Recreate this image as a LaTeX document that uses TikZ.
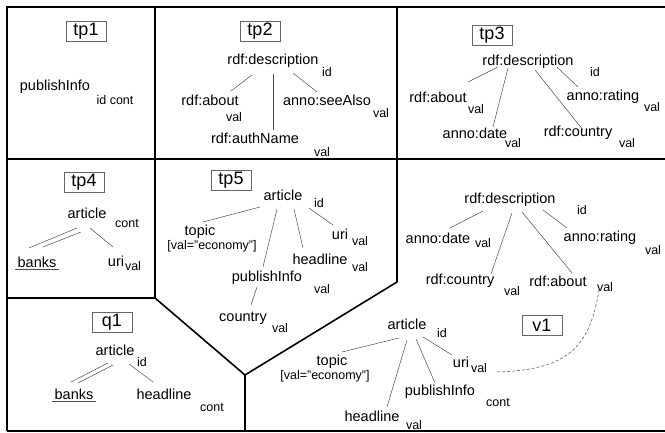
\documentclass[tikz,border=0pt]{standalone}
\usepackage{fontspec}
\setmainfont{Liberation Sans}
\tikzset{
	wall/.style={line width=1.6pt},
	link/.style={draw=black!70, line width=0.5pt},
	tpbox/.style={draw=black!60, line width=0.6pt, minimum width=40pt, minimum height=20pt, inner sep=1pt, font=\fontsize{18}{20}\selectfont},
	lbl/.style={inner sep=1pt, font=\fontsize{14.5}{16}\selectfont},
	subl/.style={inner sep=1pt, font=\fontsize{12.5}{14}\selectfont}
}

\begin{document}
\begin{tikzpicture}[x=1pt,y=-1pt]

	\useasboundingbox (0,0) rectangle (665,433);

	% partition
	\draw[wall] (7,431) -- (7,7) -- (665,7);
	\draw[wall] (7,431) -- (665,431);
	\draw[wall] (7,159) -- (665,159);
	\draw[wall] (155,7) -- (155,298);
	\draw[wall] (7,298) -- (155,298) -- (245,375) -- (245,431);
	\draw[wall] (397,7) -- (397,282) -- (245,375);

	% tp1
	\node[tpbox] (tp1) at (86,31) {tp1};
	\node[lbl] (t1pub) at (55,87) {publishInfo};
	\node[subl] (t1pubs) at (115,100) {id cont};

	% tp2
	\node[tpbox] (tp2) at (260,31) {tp2};
	\node[lbl] (t2desc) at (273,61) {rdf:description};
	\node[subl] (t2descs) at (327,72) {id};
	\node[lbl] (t2about) at (210,100) {rdf:about};
	\node[subl] (t2abouts) at (234,117) {val};
	\node[lbl] (t2see) at (327,100) {anno:seeAlso};
	\node[subl] (t2sees) at (381,113) {val};
	\node[lbl] (t2auth) at (255,138) {rdf:authName};
	\node[subl] (t2auths) at (322,152) {val};
	\draw[link] ([shift={(-21,14)}]t2desc.center) -- ([shift={(21,-9)}]t2about.center);
	\draw[link] ([shift={(0,13)}]t2desc.center) -- ([shift={(18,-8)}]t2auth.center);
	\draw[link] ([shift={(20,12)}]t2desc.center) -- ([shift={(-10,-8)}]t2see.center);

	% tp3
	\node[tpbox] (tp3) at (492,35) {tp3};
	\node[lbl] (t3desc) at (528,62) {rdf:description};
	\node[subl] (t3descs) at (595,72) {id};
	\node[lbl] (t3about) at (438,97) {rdf:about};
	\node[subl] (t3abouts) at (476,109) {val};
	\node[lbl] (t3date) at (475,133) {anno:date};
	\node[subl] (t3dates) at (513,143) {val};
	\node[lbl] (t3ctry) at (578,133) {rdf:country};
	\node[subl] (t3ctrys) at (627,143) {val};
	\node[lbl] (t3rate) at (603,97) {anno:rating};
	\node[subl] (t3rates) at (652,107) {val};
	\draw[link] ([shift={(-30,5)}]t3desc.center) -- ([shift={(30,-15)}]t3about.center);
	\draw[link] ([shift={(-20,6)}]t3desc.center) -- ([shift={(18,-6)}]t3date.center);
	\draw[link] ([shift={(7,8)}]t3desc.center) -- ([shift={(5,-3)}]t3ctry.center);
	\draw[link] ([shift={(29,5)}]t3desc.center) -- ([shift={(-25,-10)}]t3rate.center);

	% tp4
	\node[tpbox] (tp4) at (84,182) {tp4};
	\node[lbl] (t4art) at (87,213) {article};
	\node[subl] (t4arts) at (127,224) {cont};
	\node[lbl, inner sep=2pt] (t4bank) at (37,262) {banks};
	\node[lbl] (t4uri) at (116,261) {uri};
	\node[subl] (t4uris) at (133,266) {val};
	\draw[link] (t4bank.south west) -- (t4bank.south east);
	\draw[link] ([shift={(-10,15)}]t4art.center) -- ([shift={(-8,-14)}]t4bank.center);
	\draw[link] ([shift={(-6,19)}]t4art.center) -- ([shift={(6,-15)}]t4bank.center);
	\draw[link] ([shift={(3,15)}]t4art.center) -- ([shift={(-3,-14)}]t4uri.center);

	% tp5
	\node[tpbox] (tp5) at (231,180) {tp5};
	\node[lbl] (t5art) at (283,195) {article};
	\node[subl] (t5arts) at (319,203) {id};
	\node[lbl] (t5top) at (200,232) {topic};
	\node[subl] (t5eco) at (212,246) {[val="economy"]};
	\node[lbl] (t5uri) at (340,234) {uri};
	\node[subl] (t5uris) at (360,241) {val};
	\node[lbl] (t5head) at (320,259) {headline};
	\node[subl] (t5heads) at (360,267) {val};
	\node[lbl] (t5pub) at (267,278) {publishInfo};
	\node[subl] (t5pubs) at (322,289) {val};
	\node[lbl] (t5ctry) at (243,318) {country};
	\node[subl] (t5ctrys) at (280,328) {val};
	\draw[link] ([shift={(-23,12)}]t5art.center) -- ([shift={(3,-10)}]t5top.center);
	\draw[link] ([shift={(26,13)}]t5art.center) -- ([shift={(-7,-9)}]t5uri.center);
	\draw[link] ([shift={(11,14)}]t5art.center) -- ([shift={(-17,-11)}]t5head.center);
	\draw[link] ([shift={(-6,14)}]t5art.center) -- ([shift={(-4,-11)}]t5pub.center);
	\draw[link] ([shift={(-10,9)}]t5pub.center) -- ([shift={(8,-13)}]t5ctry.center);

	% v1, description part
	\node[lbl] (v1desc) at (510,200) {rdf:description};
	\node[subl] (v1descs) at (582,210) {id};
	\node[lbl] (v1date) at (438,238) {anno:date};
	\node[subl] (v1dates) at (483,243) {val};
	\node[lbl] (v1ctry) at (460,281) {rdf:country};
	\node[subl] (v1ctrys) at (512,291) {val};
	\node[lbl] (v1about) at (558,281) {rdf:about};
	\node[subl] (v1abouts) at (605,287) {val};
	\node[lbl] (v1rate) at (600,238) {anno:rating};
	\node[subl] (v1rates) at (653,250) {val};
	\draw[link] ([shift={(-27,11)}]v1desc.center) -- ([shift={(12,-10)}]v1date.center);
	\draw[link] ([shift={(2,13)}]v1desc.center) -- ([shift={(31,-7)}]v1ctry.center);
	\draw[link] ([shift={(12,12)}]v1desc.center) -- ([shift={(14,-8)}]v1about.center);
	\draw[link] ([shift={(33,10)}]v1desc.center) -- ([shift={(-33,-10)}]v1rate.center);

	% v1, article part
	\node[tpbox] (v1) at (542,325) {v1};
	\node[lbl] (v1art) at (407,324) {article};
	\node[subl] (v1arts) at (442,333) {id};
	\node[lbl] (v1top) at (332,362) {topic};
	\node[subl] (v1eco) at (325,376) {[val="economy"]};
	\node[lbl] (v1uri) at (461,362) {uri};
	\node[subl] (v1uris) at (479,368) {val};
	\node[lbl] (v1pub) at (440,392) {publishInfo};
	\node[subl] (v1pubs) at (498,403) {cont};
	\node[lbl] (v1head) at (372,416) {headline};
	\node[subl] (v1heads) at (414,425) {val};
	\draw[link] ([shift={(-8,14)}]v1art.center) -- ([shift={(10,-10)}]v1top.center);
	\draw[link] ([shift={(16,13)}]v1art.center) -- ([shift={(-9,-7)}]v1uri.center);
	\draw[link] ([shift={(9,15)}]v1art.center) -- ([shift={(-5,-9)}]v1pub.center);
	\draw[link] ([shift={(0,16)}]v1art.center) -- ([shift={(15,-9)}]v1head.center);
	\draw[link, dash pattern=on 3pt off 2pt] ([shift={(18,4)}]v1uris.center) .. controls ([shift={(91,2)}]v1uris.center) and ([shift={(-15,58)}]v1abouts.center) .. ([shift={(-6,3)}]v1abouts.center);

	% q1
	\node[tpbox] (q1) at (112,322) {q1};
	\node[lbl] (q1art) at (115,350) {article};
	\node[subl] (q1arts) at (142,362) {id};
	\node[lbl, inner sep=2pt] (q1bank) at (74,394) {banks};
	\node[lbl] (q1head) at (164,394) {headline};
	\node[subl] (q1heads) at (212,408) {cont};
	\draw[link] (q1bank.south west) -- (q1bank.south east);
	\draw[link] ([shift={(-7,13)}]q1art.center) -- ([shift={(-3,-12)}]q1bank.center);
	\draw[link] ([shift={(-2,15)}]q1art.center) -- ([shift={(4,-11)}]q1bank.center);
	\draw[link] ([shift={(14,14)}]q1art.center) -- ([shift={(-11,-12)}]q1head.center);

\end{tikzpicture}
\end{document}
